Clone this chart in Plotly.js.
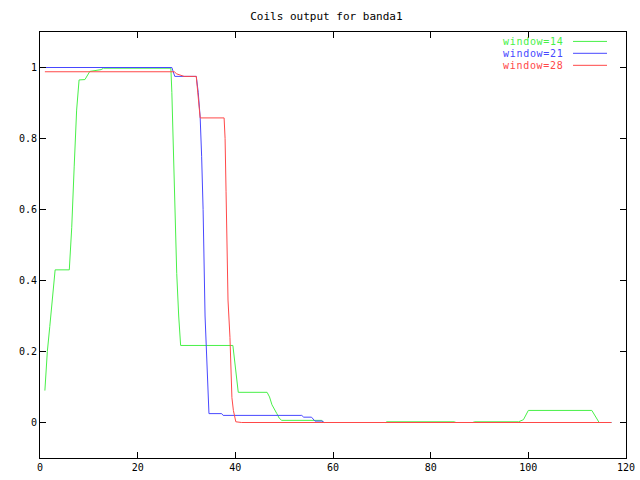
<!DOCTYPE html>
<html>
<head>
<meta charset="utf-8">
<script src="https://cdn.plot.ly/plotly-3.0.1.min.js"></script>
<style>html,body{margin:0;padding:0;background:#fff;}</style>
</head>
<body>
<div id="chart" style="width:640px;height:480px;"></div>
<script>
// ---- data ----
const seriesNames = ["window=14", "window=21", "window=28"];
const seriesColors = ["#48f048", "#4848ff", "#ff4848"];

const x14 = [1, 1.5, 2, 2.5, 3, 3.1, 6, 6.5, 7, 7.5, 8, 9.2, 10.2, 12.5, 13, 26.8, 27, 27.3, 27.6, 28, 28.4, 28.8,
             39.5, 40, 40.6, 46.5, 47, 47.5, 48, 48.5, 49, 49.5, 57.7, 58, 70.8, 71, 84.8, 85.2, 88.6, 89, 98, 99, 100, 113, 114.5, 117];
const y14 = [0.09, 0.2, 0.27, 0.345, 0.4, 0.43, 0.43, 0.55, 0.72, 0.88, 0.965, 0.966, 0.989, 0.994, 0.998, 0.998, 0.93, 0.75, 0.6, 0.42, 0.3, 0.217,
             0.217, 0.15, 0.085, 0.085, 0.072, 0.05, 0.035, 0.025, 0.012, 0.006, 0.006, 0, 0, 0.002, 0.002, 0, 0, 0.002, 0.002, 0.008, 0.034, 0.034, 0, 0];

const x21 = [1, 27, 27.6, 32, 32.4, 32.8, 33.1, 33.4, 33.8, 34.1, 34.4, 34.6, 37.2, 37.5, 53.6, 54, 55.6, 56, 56.3, 57.8, 58.2, 117];
const y21 = [1, 1, 0.975, 0.975, 0.93, 0.86, 0.75, 0.6, 0.3, 0.18, 0.06, 0.025, 0.025, 0.02, 0.02, 0.015, 0.015, 0.01, 0.004, 0.004, 0, 0];

const x28 = [1, 27.5, 28, 28.8, 29.5, 32, 32.3, 32.6, 32.8, 37.7, 37.9, 38.1, 38.5, 38.9, 39.1, 39.3, 39.6, 40.1, 41.3, 117];
const y28 = [0.988, 0.988, 0.982, 0.978, 0.975, 0.975, 0.93, 0.89, 0.858, 0.858, 0.8, 0.65, 0.345, 0.24, 0.147, 0.07, 0.034, 0.002, 0, 0];

const xTicks = [0, 20, 40, 60, 80, 100, 120];
const yTicks = [0, 0.2, 0.4, 0.6, 0.8, 1];
const yTickText = ["0", "0.2", "0.4", "0.6", "0.8", "1"];
const chartTitle = "Coils output for banda1";

// ---- traces ----
const xs = [x14, x21, x28];
const ys = [y14, y21, y28];
const traces = xs.map((xv, i) => ({
  x: xv, y: ys[i], type: "scatter", mode: "lines",
  name: seriesNames[i], showlegend: false,
  line: {color: seriesColors[i], width: 1}
}));

const FONT = "'DejaVu Sans Mono', 'Liberation Mono', monospace";

// gnuplot-style key: text then line sample
const keyRowsY = [0.9779, 0.9500, 0.9218];
const annotations = seriesNames.map((n, i) => ({
  xref: "paper", yref: "paper", x: 0.896, y: keyRowsY[i],
  xanchor: "right", yanchor: "middle", showarrow: false,
  borderpad: 0,
  text: '<span style="letter-spacing:0.7px">' + n + '</span>',
  font: {family: FONT, size: 10, color: seriesColors[i]}
}));
const shapes = seriesNames.map((n, i) => ({
  type: "line", xref: "paper", yref: "paper",
  x0: 0.9096, x1: 0.9676, y0: keyRowsY[i], y1: keyRowsY[i],
  line: {color: seriesColors[i], width: 1}
}));

const axisCommon = {
  showline: true, linecolor: "#000", linewidth: 1, mirror: "ticks",
  ticks: "inside", ticklen: 6, tickcolor: "#000", tickwidth: 1,
  showgrid: false, zeroline: false,
  tickfont: {family: FONT, size: 10, color: "#000"}
};

const layout = {
  width: 640, height: 480,
  margin: {l: 40, r: 14, t: 32, b: 22, pad: 0},
  paper_bgcolor: "#fff", plot_bgcolor: "#fff",
  title: {text: chartTitle, x: 0.51, xanchor: "center", y: 0.967, yanchor: "middle",
          font: {family: FONT, size: 11, color: "#000"}},
  xaxis: Object.assign({}, axisCommon, {range: [0, 120], tickvals: xTicks}),
  yaxis: Object.assign({}, axisCommon, {range: [-0.1, 1.1], tickvals: yTicks, ticktext: yTickText}),
  annotations: annotations,
  shapes: shapes
};

Plotly.newPlot("chart", traces, layout, {staticPlot: true, displayModeBar: false});
</script>
</body>
</html>
